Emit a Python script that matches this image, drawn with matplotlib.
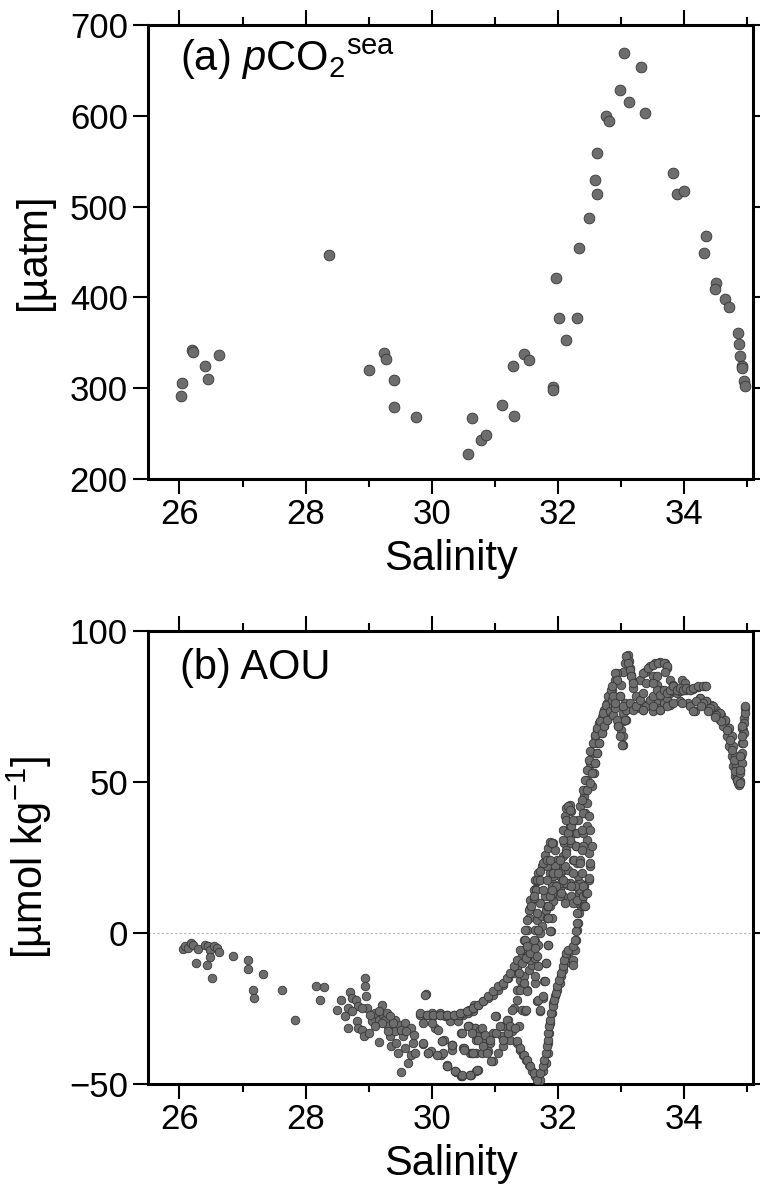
import matplotlib
matplotlib.use("Agg")
import matplotlib.pyplot as plt
from matplotlib.ticker import MultipleLocator

plt.rcParams['font.family'] = ['Liberation Sans', 'DejaVu Sans']
plt.rcParams['mathtext.fontset'] = 'custom'
plt.rcParams['mathtext.rm'] = 'Liberation Sans'
plt.rcParams['mathtext.it'] = 'Liberation Sans:italic'
plt.rcParams['mathtext.bf'] = 'Liberation Sans:bold'

# ---------------- panel (a): pCO2sea vs salinity ----------------
pco2_salinity = [
    26.02, 26.04, 26.20, 26.22, 26.40, 26.45, 26.62, 28.38, 29.00, 29.25,
    29.28, 29.40, 29.41, 29.75, 30.64, 30.57, 30.79, 30.87,
    33.06, 33.32, 32.99, 33.13, 33.39, 32.77, 32.82, 32.62, 32.60, 32.63,
    33.83, 33.90, 34.01, 32.50, 32.34, 31.98, 34.35, 34.32, 34.52, 34.50,
    34.65, 34.72, 32.02, 32.31, 32.14, 34.86, 34.88, 34.89, 34.92, 34.93,
    34.96, 34.98, 31.46, 31.55, 31.29, 31.92, 31.92, 31.11, 31.31,
]
pco2_values = [
    291.7, 305.4, 342.4, 339.5, 324.8, 309.8, 336.9, 447.0, 320.4, 339.1,
    332.5, 309.0, 279.0, 268.3, 266.8, 227.5, 242.6, 248.5,
    669.6, 653.5, 628.6, 615.4, 602.6, 600.0, 594.5, 559.0, 529.7, 514.0,
    536.6, 514.0, 517.6, 487.2, 454.6, 421.2, 467.4, 448.4, 415.4, 409.6,
    397.8, 389.7, 377.0, 377.0, 352.7, 360.4, 348.4, 335.5, 324.5, 322.0,
    308.0, 302.5, 337.4, 330.8, 324.5, 301.4, 298.0, 281.7, 269.6,
]

# ---------------- panel (b): AOU vs salinity ----------------
aou_points = [
    # low-salinity surface waters
    (26.06, -5.3), (26.09, -4.4), (26.13, -5.0), (26.18, -3.3), (26.21, -3.9),
    (26.29, -5.3), (26.26, -9.9), (26.41, -3.9), (26.45, -4.4), (26.48, -5.5),
    (26.49, -7.9), (26.44, -10.6), (26.51, -14.9), (26.54, -4.4), (26.59, -5.0),
    (26.63, -6.4), (26.85, -7.7), (27.08, -9.1), (27.09, -11.9), (27.32, -13.6),
    (27.16, -18.8), (27.18, -21.5), (27.63, -18.8), (27.83, -28.7), (28.17, -17.7),
    (28.30, -17.9), (28.23, -22.3), (28.50, -25.4), (28.56, -22.3), (28.62, -27.6),
    (28.68, -24.8), (28.70, -19.6), (28.74, -21.5), (28.68, -31.5), (28.80, -22.1),
    (28.83, -24.3), (28.94, -14.9), (28.95, -17.7), (28.96, -21.0), (28.98, -24.8),
    (28.81, -29.2), (28.83, -31.5), (28.89, -32.2), (28.93, -34.2), (29.01, -33.1),
    (29.05, -29.2), (29.10, -26.5), (29.16, -28.7), (29.21, -23.7), (29.23, -27.0),
    (29.16, -36.2), (29.26, -28.7), (29.31, -30.9), (29.34, -34.2), (29.36, -37.5),
    (29.42, -28.7), (29.42, -32.6), (29.44, -36.4), (29.50, -30.5), (29.47, -39.7),
    (29.51, -46.1), (29.55, -34.2), (29.58, -29.8), (29.58, -38.1), (29.63, -43.0),
    (29.67, -40.3), (29.71, -36.4), (29.73, -39.7), (29.68, -31.5), (29.72, -33.7),
    (29.81, -27.0), (29.87, -36.8), (29.91, -20.2), (29.92, -27.0), (29.95, -39.7),
    (29.99, -39.1), (30.03, -27.6), (30.05, -31.5), (30.10, -32.2), (30.13, -27.0),
    (30.16, -35.9), (30.15, -40.3), (30.24, -44.2), (30.26, -27.6), (30.29, -29.2),
    (30.33, -37.0), (30.33, -38.6), (30.37, -27.6), (30.38, -46.1), (30.42, -29.2),
    (30.47, -47.5), (30.47, -33.1), (30.50, -38.1), (30.50, -27.0), (30.58, -26.5),
    (30.58, -30.9), (30.61, -39.7), (30.62, -46.9), (30.66, -25.8), (30.67, -23.7),
    (30.69, -31.5), (30.70, -39.7), (30.71, -35.3), (30.71, -45.8),
    (28.74, -25.9), (28.89, -24.8), (29.02, -27.0), (29.16, -25.9), (29.29, -26.5),
    (29.34, -27.6), (29.39, -29.8), (29.52, -32.0), (29.60, -32.6), (29.21, -29.8),
    (29.10, -30.9), (29.31, -32.6), (30.00, -26.5), (30.21, -27.6), (30.43, -27.0),
    # upper return curve
    (30.14, -26.5), (30.24, -27.0), (30.35, -27.0), (30.48, -26.5), (30.59, -25.4),
    (30.66, -24.8), (30.74, -23.7), (30.82, -22.6), (30.90, -21.5), (30.98, -20.4),
    (31.06, -18.8), (31.14, -17.1), (31.22, -14.9), (31.30, -13.2), (31.35, -11.3),
    (31.40, -9.4), (31.43, -7.7), (31.46, -5.5), (31.48, -2.8), (31.51, 1.1),
    (31.54, 5.0), (31.56, 8.3), (31.59, 11.0), (31.64, 14.6), (31.68, 17.1),
    (29.82, -26.5), (29.92, -27.0), (30.03, -27.0), (30.14, -27.0), (30.24, -27.0),
    (30.35, -27.0), (30.45, -26.5), (30.56, -25.9), (30.66, -24.8), (30.74, -23.7),
    (30.82, -22.6), (30.90, -21.0), (30.98, -19.3), (31.06, -17.7), (31.14, -16.6),
    (31.19, -14.9), (31.25, -13.2), (31.30, -11.0), (31.35, -8.8), (31.40, -5.5),
    (31.46, -2.2), (31.48, 1.1), (31.51, 4.4), (31.54, 7.7), (31.56, 11.0),
    (31.62, 14.3), (31.64, 17.7), (31.69, 19.9), (31.75, 22.1), (31.80, 23.7),
    (29.90, -20.4), (29.87, -29.8), (30.00, -29.8),
    # middle cluster
    (30.19, -35.3), (30.18, -39.7), (30.32, -37.0), (30.24, -43.6), (30.37, -45.8),
    (30.48, -47.5), (30.61, -46.9), (30.73, -45.5), (30.51, -38.1), (30.64, -39.7),
    (30.48, -33.1), (30.59, -30.9), (30.69, -31.5), (30.77, -32.0), (30.72, -34.2),
    (30.82, -35.3), (30.80, -39.7), (30.90, -39.2), (30.98, -42.5), (30.98, -33.1),
    (30.93, -36.4), (31.06, -39.7), (31.03, -27.6), (31.11, -34.2), (31.14, -30.9),
    (31.14, -37.5), (31.22, -28.7), (31.25, -35.3), (31.27, -32.6), (31.38, -30.9),
    (31.30, -24.8), (31.43, -25.4), (31.49, -25.7), (31.72, -25.9), (31.76, -21.5),
    (31.67, -22.6), (31.78, -16.0), (31.64, -16.6), (31.52, -18.8), (31.43, -17.1),
    (31.35, -18.8), (31.40, -15.5), (31.46, -14.3), (31.54, -12.1), (31.59, -10.5),
    (31.56, -8.8), (31.64, -8.3), (31.51, -7.7), (31.56, -5.5), (31.48, -2.2),
    (31.64, -2.8), (31.69, -3.9), (31.82, -9.9), (31.84, -3.9), (31.64, 1.1),
    (31.72, 0.0), (31.89, 0.6), (31.67, 4.4), (31.75, 5.5), (31.83, 5.0),
    (31.91, 5.0), (31.82, 7.7), (31.88, 8.8), (31.93, 10.5), (31.88, 12.1),
    (31.96, 13.2), (32.01, 15.5), (32.09, 16.6), (32.17, 16.0), (32.25, 15.5),
    (32.33, 16.6), (32.41, 16.0),
    (29.87, -36.4), (29.95, -39.7), (30.08, -40.3), (30.16, -35.9), (30.24, -44.2),
    (30.32, -37.0), (30.37, -45.8), (30.48, -47.0), (30.61, -47.0), (30.72, -45.3),
    (30.51, -38.6), (30.58, -30.9), (30.64, -33.1), (30.66, -39.7), (30.74, -35.3),
    (30.80, -31.5), (30.85, -33.7), (30.82, -37.5), (30.88, -39.7), (30.95, -42.5),
    (30.93, -35.3), (31.01, -27.6), (31.03, -33.1), (31.09, -30.9), (31.14, -35.3),
    (31.19, -28.7), (31.22, -33.1), (31.25, -30.9), (31.32, -31.5), (31.27, -25.4),
    (31.35, -22.1), (31.40, -18.8), (31.46, -16.6), (31.38, -13.2), (31.43, -9.9),
    (31.50, -8.3), (31.56, -6.6), (31.51, -4.4), (31.62, -2.2), (31.64, -5.0),
    (31.67, -7.7), (31.69, -11.0), (31.64, -14.3), (31.51, -19.3), (31.50, -25.4),
    (31.72, -25.4), (31.69, -22.1), (31.77, -21.0), (31.80, -16.0), (31.82, -9.9),
    (31.85, -3.9), (31.88, 0.6), (31.85, 5.0), (31.83, 8.8), (31.80, 12.1),
    (31.72, 9.9), (31.75, 2.2), (31.69, 1.1), (31.67, 6.6), (31.93, 13.2),
    (31.91, 16.6), (31.88, 19.9), (31.83, 22.1),
    # descending then rising narrow track
    (31.35, -36.4), (31.40, -38.6), (31.45, -40.3), (31.50, -41.9), (31.54, -43.6),
    (31.59, -45.8), (31.64, -47.5), (31.69, -49.1), (31.72, -48.6), (31.77, -45.8),
    (31.82, -43.0), (31.84, -39.7), (31.85, -36.4), (31.87, -33.1), (31.88, -29.8),
    (31.91, -26.5), (31.93, -23.2), (31.96, -21.0), (31.99, -18.8), (32.03, -16.6),
    (32.06, -14.3), (32.09, -12.1), (32.12, -9.9), (32.14, -7.7), (32.20, -6.1),
    (32.24, -8.8), (32.25, -10.5), (32.28, -5.5), (32.29, -2.2), (32.30, 1.1),
    (32.32, 3.3), (32.34, 6.6), (32.37, 8.8), (32.38, 11.0), (32.40, 13.2),
    (32.42, 15.5),
    (31.35, -35.9), (31.40, -38.1), (31.46, -40.3), (31.51, -41.9), (31.56, -44.2),
    (31.62, -46.4), (31.67, -48.6), (31.72, -46.4), (31.76, -44.2), (31.79, -41.9),
    (31.81, -39.7), (31.83, -37.5), (31.84, -35.3), (31.85, -33.1), (31.87, -30.9),
    (31.88, -28.7), (31.90, -26.5), (31.92, -24.3), (31.94, -22.1), (31.97, -19.9),
    (31.99, -17.7), (32.02, -15.5), (32.05, -13.2), (32.08, -11.0), (32.10, -8.8),
    (32.13, -6.6), (32.17, -5.5), (32.25, -4.4), (32.28, -2.2), (32.29, 0.6),
    (32.30, 3.3), (32.31, 6.6), (32.33, 9.9), (32.34, 13.2), (32.36, 16.6),
    # strands 31.5-32.5
    (31.57, 8.8), (31.62, 11.6), (31.66, 14.3), (31.68, 17.4), (31.72, 20.4),
    (31.76, 23.2), (31.80, 25.9), (31.84, 28.1), (31.88, 30.0), (31.92, 29.8),
    (31.96, 27.6), (31.99, 24.3), (32.01, 21.5), (32.04, 18.8), (32.06, 15.5),
    (32.09, 12.1), (31.85, 8.8), (31.88, 12.1), (31.91, 15.5), (31.93, 18.8),
    (31.96, 22.1), (32.04, 12.1), (32.06, 16.6), (32.08, 21.0), (32.09, 25.4),
    (32.10, 29.8), (32.09, 34.2), (32.12, 38.6), (32.14, 41.4), (32.19, 42.5),
    (32.22, 40.3), (32.25, 37.0), (32.28, 33.1), (32.29, 28.7), (32.31, 23.2),
    (32.33, 18.8), (32.35, 14.3), (32.38, 9.9), (32.22, 29.8), (32.25, 24.3),
    (32.20, 35.3), (32.17, 33.1), (32.14, 27.6), (32.17, 21.0), (32.20, 16.6),
    (32.22, 12.1), (32.24, 9.9), (32.28, 15.5), (32.14, 16.6), (32.12, 9.9),
    (32.30, 11.0), (32.41, 12.1), (32.42, 8.8),
    (31.62, 12.1), (31.72, 17.7), (31.83, 24.3), (31.91, 29.8), (32.17, 41.9),
    (32.36, 41.9), (32.33, 37.5), (32.31, 33.1), (32.29, 28.7), (32.26, 24.3),
    (32.24, 19.9), (32.21, 15.5), (32.43, 39.7), (32.46, 35.3), (32.47, 30.9),
    (32.49, 26.5), (32.51, 22.1), (32.49, 17.7), (32.45, 13.2), (32.41, 15.5),
    (32.38, 19.9), (32.36, 24.3), (32.40, 28.7), (32.41, 33.1), (32.22, 35.3),
    (32.20, 30.9), (32.14, 26.5), (32.12, 22.1), (32.09, 17.7), (32.06, 13.2),
    (31.98, 15.5), (31.93, 19.9), (31.88, 24.3), (31.83, 17.7), (31.77, 14.3),
    (31.91, 14.3), (32.01, 19.9), (32.04, 24.3), (32.09, 30.9), (32.14, 37.5),
    (32.20, 40.8), (32.25, 37.5),
    # steep rise to the deep-water plateau
    (32.38, 34.2), (32.41, 39.7), (32.42, 45.3), (32.46, 50.8), (32.49, 54.1),
    (32.51, 56.3), (32.54, 59.6), (32.57, 62.9), (32.59, 65.1), (32.62, 67.3),
    (32.66, 69.5), (32.70, 71.7), (32.74, 74.0), (32.78, 76.2), (32.83, 78.4),
    (32.87, 80.6), (32.54, 48.6), (32.57, 53.0), (32.59, 56.3), (32.62, 59.6),
    (32.66, 62.9), (32.70, 66.2), (32.74, 68.4), (32.78, 70.6), (32.82, 72.3),
    (32.43, 47.5), (32.46, 43.0), (32.49, 38.6), (32.51, 34.2), (32.54, 28.7),
    (32.51, 23.2), (32.49, 18.2), (32.46, 13.2), (32.44, 8.8), (32.35, 23.2),
    (32.38, 27.6),
    (32.38, 44.2), (32.41, 47.5), (32.43, 50.8), (32.46, 54.1), (32.49, 57.4),
    (32.51, 60.2), (32.56, 62.9), (32.59, 65.7), (32.63, 67.9), (32.67, 70.1),
    (32.72, 72.8), (32.77, 75.6), (32.80, 78.4), (32.84, 80.6), (32.54, 53.0),
    (32.59, 56.3), (32.62, 59.6), (32.66, 62.9), (32.70, 66.2), (32.74, 68.4),
    (32.78, 70.6), (32.83, 73.4), (32.88, 75.6), (32.47, 47.5), (32.51, 49.7),
    # plateau
    (33.11, 92.2), (33.13, 90.0), (33.15, 87.7), (33.17, 85.5), (33.19, 83.3),
    (33.20, 81.1), (33.07, 89.4), (33.04, 86.6), (32.94, 86.1), (32.91, 83.9),
    (32.86, 77.3), (33.01, 82.2), (32.99, 78.4), (33.07, 76.2), (33.03, 72.8),
    (33.04, 70.1), (33.01, 67.3), (33.03, 65.1), (33.03, 62.4), (32.96, 68.4),
    (33.09, 70.6), (32.88, 72.3), (32.91, 74.5),
    (33.25, 78.4), (33.31, 76.7), (33.36, 75.1), (33.41, 75.6), (33.46, 76.7),
    (33.52, 75.1), (33.57, 76.2), (33.62, 74.5), (33.68, 76.2), (33.73, 77.8),
    (33.78, 79.5), (33.83, 80.1), (33.89, 79.5), (33.94, 80.1), (33.99, 80.6),
    (34.04, 80.6), (34.10, 80.6), (34.15, 80.8), (34.23, 81.5), (34.34, 81.9),
    (33.31, 83.9), (33.38, 86.6), (33.46, 88.3), (33.54, 89.4), (33.62, 89.6),
    (33.70, 89.4), (33.73, 87.7), (33.41, 82.8), (33.52, 85.0), (33.57, 82.2),
    (33.65, 80.6), (33.78, 83.9), (33.83, 82.2), (33.97, 83.9), (34.02, 82.8),
    (33.25, 74.5), (33.36, 74.0), (33.52, 73.4), (33.62, 74.0), (33.78, 75.6),
    (33.94, 76.7), (34.07, 76.2), (34.18, 73.4),
    (32.94, 70.6), (32.96, 68.4), (32.99, 65.1), (33.02, 62.4), (33.07, 70.6),
    (33.09, 74.0), (33.09, 91.6), (33.12, 89.4), (33.15, 87.2), (33.17, 85.0),
    (33.20, 82.8), (32.91, 86.1), (32.94, 83.9), (32.87, 81.7), (32.88, 78.4),
    (32.91, 76.2), (32.99, 78.4), (33.04, 75.1), (33.15, 76.2), (33.20, 74.0),
    (33.25, 75.1), (33.31, 77.3), (33.36, 79.5), (33.41, 75.1), (33.46, 77.3),
    (33.52, 78.4), (33.57, 80.6), (33.62, 78.9), (33.68, 80.6), (33.73, 79.5),
    (33.78, 80.6), (33.83, 81.7), (33.89, 80.6), (33.94, 81.1), (33.99, 80.6),
    (34.04, 81.1), (34.10, 80.6), (34.15, 81.1), (34.23, 81.7), (34.31, 81.7),
    (34.36, 81.9), (33.36, 86.1), (33.44, 87.7), (33.52, 88.9), (33.60, 89.4),
    (33.68, 89.4), (33.73, 88.3), (33.70, 86.6), (33.57, 85.0), (33.52, 82.8),
    (33.36, 74.0), (33.52, 75.1), (33.62, 74.0), (33.73, 75.1), (33.83, 76.2),
    (33.97, 76.2), (34.10, 75.1), (34.15, 73.4),
    # high-salinity tail
    (34.26, 77.8), (34.36, 76.7), (34.44, 75.6), (34.52, 74.0), (34.60, 72.3),
    (34.65, 70.1), (34.71, 67.3), (34.74, 64.6), (34.77, 61.3), (34.80, 57.9),
    (34.83, 54.1), (34.85, 50.8), (34.87, 49.1), (34.31, 75.6), (34.41, 74.0),
    (34.49, 72.3), (34.57, 70.6), (34.63, 68.4), (34.68, 65.1), (34.72, 61.8),
    (34.76, 58.5), (34.78, 55.2), (34.81, 51.9), (34.89, 50.2), (34.90, 54.1),
    (34.91, 58.5), (34.93, 62.9), (34.94, 67.3), (34.96, 71.2), (34.97, 74.5),
    (34.91, 56.3), (34.93, 67.8),
    (34.26, 77.8), (34.36, 76.7), (34.47, 75.1), (34.57, 72.8), (34.65, 70.6),
    (34.72, 67.9), (34.76, 65.1), (34.79, 61.8), (34.81, 58.5), (34.83, 55.2),
    (34.85, 51.9), (34.86, 49.7), (34.31, 76.2), (34.42, 74.5), (34.52, 72.3),
    (34.60, 70.1), (34.68, 67.3), (34.73, 64.0), (34.77, 60.7), (34.80, 57.4),
    (34.82, 53.5), (34.84, 50.8), (34.20, 76.7), (34.28, 75.1), (34.39, 73.4),
    (34.49, 71.7), (34.89, 49.7), (34.90, 53.0), (34.92, 56.3), (34.93, 59.6),
    (34.94, 62.9), (34.95, 66.2), (34.96, 69.5), (34.97, 72.8), (34.98, 75.1),
    (34.92, 68.4), (34.93, 65.1), (34.90, 58.5), (34.89, 54.1),
]
aou_salinity = [p[0] for p in aou_points]
aou_values = [p[1] for p in aou_points]

x_major_ticks = [26, 28, 30, 32, 34]
pco2_ticks = [200, 300, 400, 500, 600, 700]
aou_ticks = [-50, 0, 50, 100]

FILL = '#6d6d6d'
EDGE = '#363636'

fig = plt.figure(figsize=(7.6, 11.9), dpi=100)
ax1 = fig.add_axes([0.1947, 0.5975, 0.7961, 0.3815])
ax2 = fig.add_axes([0.1947, 0.0891, 0.7961, 0.3806])


def style(ax):
    ax.set_xlim(25.5, 35.1)
    ax.set_xticks(x_major_ticks)
    ax.xaxis.set_minor_locator(MultipleLocator(1))
    ax.tick_params(axis='x', which='both', direction='out', top=True,
                   bottom=True, labeltop=False, width=1.5, color='black')
    ax.tick_params(axis='x', which='major', length=10.5, labelsize=25, pad=3)
    ax.tick_params(axis='x', which='minor', length=5.5)
    ax.tick_params(axis='y', which='major', direction='out', left=True,
                   right=True, labelright=False, length=10.5, width=1.5,
                   labelsize=25, pad=4)
    for sp in ax.spines.values():
        sp.set_linewidth(2.2)
        sp.set_color('black')
    ax.set_xlabel('Salinity', fontsize=30, labelpad=6)
    ax.yaxis.set_label_coords(-0.155, 0.5)


ax1.scatter(pco2_salinity, pco2_values, s=60, c=FILL, edgecolors=EDGE,
            linewidths=0.6, zorder=3)
ax1.set_ylim(200, 700)
ax1.set_yticks(pco2_ticks)
style(ax1)
ax1.set_ylabel('[µatm]', fontsize=30)
ax1.text(0.053, 0.898, r'(a) $\mathit{p}$CO$_2{}^{\mathrm{sea}}$',
         transform=ax1.transAxes, fontsize=30, va='baseline', ha='left')

ax2.axhline(0, color='#b5b5b5', lw=0.8, ls=(0, (2, 2)), zorder=1)
ax2.scatter(aou_salinity, aou_values, s=38, c=FILL, edgecolors=EDGE,
            linewidths=0.6, zorder=3)
ax2.set_ylim(-50, 100)
ax2.set_yticks(aou_ticks)
style(ax2)
ax2.set_ylabel(r'[µmol kg$^{-1}$]', fontsize=30)
ax2.text(0.053, 0.895, '(b) AOU', transform=ax2.transAxes, fontsize=30,
         va='baseline', ha='left')

fig.savefig('out.png', dpi=100)
